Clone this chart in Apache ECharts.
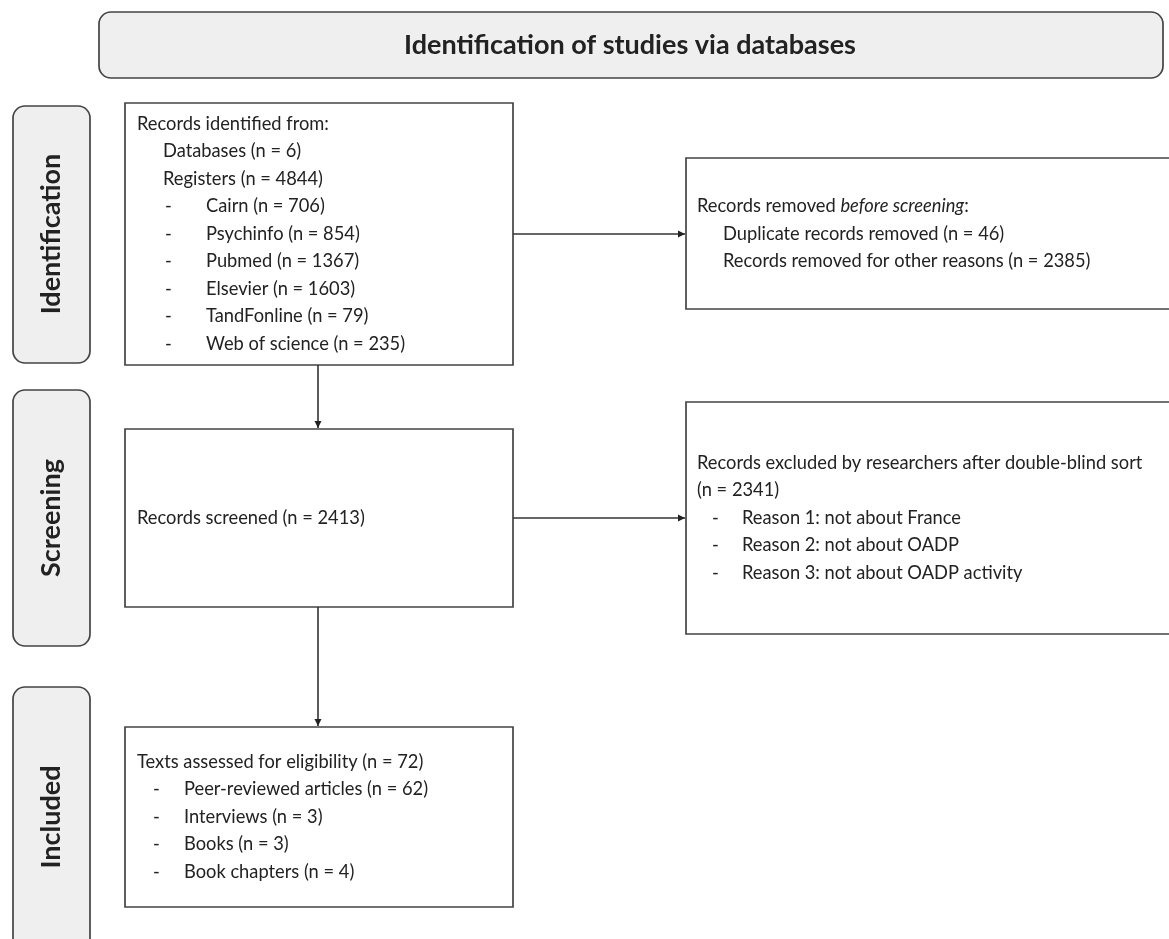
<!DOCTYPE html>
<html>
<head>
<meta charset="utf-8">
<script src="https://cdn.jsdelivr.net/npm/echarts@6/dist/echarts.min.js"></script>
<style>
html,body{margin:0;padding:0;background:#fff;}
#chart{width:1169px;height:939px;}
</style>
</head>
<body>
<div id="chart"></div>
<script>
// ---- Data ----
const titleText = 'Identification of studies via databases';
const phaseLabels = ['Identification', 'Screening', 'Included'];
const databasesCount = 6;
const registersCount = 4844;
const registerNames = ['Cairn', 'Psychinfo', 'Pubmed', 'Elsevier', 'TandFonline', 'Web of science'];
const registerCounts = [706, 854, 1367, 1603, 79, 235];
const duplicatesRemoved = 46;
const otherRemoved = 2385;
const screenedCount = 2413;
const excludedCount = 2341;
const exclusionReasons = ['Reason 1: not about France', 'Reason 2: not about OADP', 'Reason 3: not about OADP activity'];
const includedTotal = 72;
const includedTypes = ['Peer-reviewed articles', 'Interviews', 'Books', 'Book chapters'];
const includedCounts = [62, 3, 3, 4];

// ---- Style / layout ----
const FONT = 'Lato';
const FS = 18.3;
const LH = 27.5;
const TXT = '#222';
const STROKE = '#444';
const GRAY = '#efefef';

const chart = echarts.init(document.getElementById('chart'), null, {renderer: 'canvas'});
const g = [];

function box(x, y, w, h, r, fill) {
  g.push({type: 'rect', shape: {x: x, y: y, width: w, height: h, r: r || 0},
    style: {fill: fill || '#fff', stroke: STROKE, lineWidth: 1.7}, z: 1});
}
function txt(x, y, s, opts) {
  opts = opts || {};
  const st = {text: s, x: x, y: y, fill: TXT, font: (opts.weight || 'normal') + ' ' + (opts.size || FS) + 'px ' + FONT,
    align: opts.align || 'left', verticalAlign: 'middle'};
  if (opts.rich) st.rich = opts.rich;
  const el = {type: 'text', style: st, z: 5};
  if (opts.rotation) { el.x = x; el.y = y; st.x = 0; st.y = 0; el.rotation = opts.rotation; }
  g.push(el);
}
function lines(x0, dashX, textX, yc, items) {
  const n = items.length;
  const y0 = yc - (n - 1) * LH / 2;
  items.forEach(function (it, i) {
    const y = y0 + i * LH;
    if (it.k === 'dash') {
      txt(dashX, y, '-');
      txt(textX, y, it.t, it.o);
    } else if (it.k === 'sub') {
      txt(it.x, y, it.t, it.o);
    } else {
      txt(x0, y, it.t, it.o);
    }
  });
}
function arrow(x1, y1, x2, y2) {
  g.push({type: 'line', shape: {x1: x1, y1: y1, x2: x2, y2: y2}, style: {stroke: '#333', lineWidth: 1.6}, z: 2});
  const L = 7, W = 3.5;
  let pts;
  if (x1 === x2) pts = [[x2 - W, y2 - L], [x2 + W, y2 - L], [x2, y2]];
  else pts = [[x2 - L, y2 - W], [x2 - L, y2 + W], [x2, y2]];
  g.push({type: 'polygon', shape: {points: pts}, style: {fill: '#222'}, z: 3});
}

// header
box(99, 12, 1064, 66, 12, GRAY);
txt(630, 45, titleText, {weight: 'bold', size: 27, align: 'center'});

// phase side boxes
const phaseBoxes = [[106, 363], [390, 646], [687, 960]];
const phaseCenters = [234, 518, 817];
phaseBoxes.forEach(function (b, i) {
  box(13, b[0], 77, b[1] - b[0], 12, GRAY);
  txt(51, phaseCenters[i], phaseLabels[i], {weight: 'bold', size: 27, align: 'center', rotation: Math.PI / 2});
});

// main boxes
const LX = 125, LW = 388, RX = 686, RW = 520;
box(LX, 103, LW, 262);
box(RX, 158, RW, 151);
box(LX, 429, LW, 178);
box(RX, 402, RW, 232);
box(LX, 727, LW, 180);

// arrows
const midX = 318;
arrow(midX, 365, midX, 428);
arrow(midX, 607, midX, 726);
arrow(LX + LW, 234, RX - 1, 234);
arrow(LX + LW, 518, RX - 1, 518);

// box 1 text
const b1 = [{t: 'Records identified from:'},
  {k: 'sub', x: 163, t: 'Databases (n = ' + databasesCount + ')'},
  {k: 'sub', x: 163, t: 'Registers (n = ' + registersCount + ')'}];
registerNames.forEach(function (n, i) { b1.push({k: 'dash', t: n + ' (n = ' + registerCounts[i] + ')'}); });
lines(137, 165, 206, 234, b1);

// box 2 text
const rich2 = {i: {fontStyle: 'italic', fontFamily: FONT, fontSize: FS, fill: TXT}, n: {fontFamily: FONT, fontSize: FS, fill: TXT}};
lines(697, 0, 0, 234, [
  {t: '{n|Records removed }{i|before screening}{n|:}', o: {rich: rich2}},
  {k: 'sub', x: 723, t: 'Duplicate records removed (n = ' + duplicatesRemoved + ')'},
  {k: 'sub', x: 723, t: 'Records removed for other reasons (n = ' + otherRemoved + ')'}]);

// box 3 text
txt(137, 518, 'Records screened (n = ' + screenedCount + ')');

// box 4 text
const b4 = [{t: 'Records excluded by researchers after double-blind sort'}, {t: '(n = ' + excludedCount + ')'}];
exclusionReasons.forEach(function (r) { b4.push({k: 'dash', t: r}); });
lines(697, 712, 742, 518, b4);

// box 5 text
const b5 = [{t: 'Texts assessed for eligibility (n = ' + includedTotal + ')'}];
includedTypes.forEach(function (t, i) { b5.push({k: 'dash', t: t + ' (n = ' + includedCounts[i] + ')'}); });
lines(137, 153, 184, 817, b5);

chart.setOption({animation: false, graphic: {elements: g}});
</script>
</body>
</html>
